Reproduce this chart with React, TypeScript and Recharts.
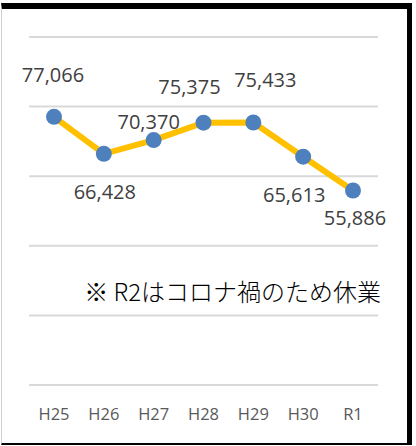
import React from "react";
import { LineChart, Line, XAxis, YAxis, CartesianGrid, LabelList } from "recharts";

const years = ["H25", "H26", "H27", "H28", "H29", "H30", "R1"];
const visitors = [77066, 66428, 70370, 75375, 75433, 65613, 55886];
const yTicks = [0, 20000, 40000, 60000, 80000, 100000];
const noteText = "※ R2はコロナ禍のため休業";

const data = years.map((y, i) => ({ year: y, value: visitors[i] }));

// manual label offsets (like Excel's dragged data labels), relative to each point
const labelOffsets: [number, number][] = [
  [-1, -42],
  [1, 38],
  [-5, -19],
  [-14, -36],
  [12, -43],
  [-9, 38],
  [2, 27],
];

const fmt = (v: number) => v.toLocaleString("en-US");

const PointLabel = (props: any) => {
  const { x, y, value, index } = props;
  const [dx, dy] = labelOffsets[index] || [0, -20];
  return (
    <text
      x={x + dx}
      y={y + dy}
      textAnchor="middle"
      dominantBaseline="central"
      fill="#404040"
      fontSize={20}
      fontFamily="'Open Sans', sans-serif"
    >
      {fmt(value)}
    </text>
  );
};

export default function App() {
  return (
    <div style={{ position: "absolute", left: 0, top: 0, width: 416, height: 446, background: "#fff" }}>
      <LineChart
        width={416}
        height={446}
        data={data}
        margin={{ top: 37, left: 29, right: 38, bottom: 31 }}
      >
        <CartesianGrid vertical={false} stroke="#d9d9d9" strokeWidth={2} />
        <YAxis hide domain={[0, 100000]} ticks={yTicks} />
        <XAxis
          dataKey="year"
          height={30}
          axisLine={false}
          tickLine={false}
          tickMargin={17}
          padding={{ left: 25, right: 25 }}
          interval={0}
          tick={{ fill: "#595959", fontSize: 16.5, fontFamily: "'Open Sans', sans-serif" }}
        />
        <Line
          type="linear"
          dataKey="value"
          stroke="#FFC000"
          strokeWidth={6}
          dot={{ r: 8, fill: "#4e80bd", stroke: "none" }}
          activeDot={false}
          isAnimationActive={false}
        >
          <LabelList dataKey="value" content={<PointLabel />} />
        </Line>
      </LineChart>
      <div
        style={{
          position: "absolute",
          right: 35,
          top: 276,
          fontFamily: "'Noto Sans CJK JP', sans-serif",
          fontSize: 24,
          fontWeight: 300,
          lineHeight: "30px",
          color: "#000",
          whiteSpace: "nowrap",
        }}
      >
        {noteText}
      </div>
      <div
        style={{
          position: "absolute",
          left: 1,
          top: 3,
          width: 411,
          height: 442,
          boxSizing: "border-box",
          borderTop: "6px solid #000",
          borderRight: "5px solid #000",
          borderBottom: "2px solid #000",
          borderLeft: "1px solid #d0d0d0",
          pointerEvents: "none",
        }}
      />
    </div>
  );
}
